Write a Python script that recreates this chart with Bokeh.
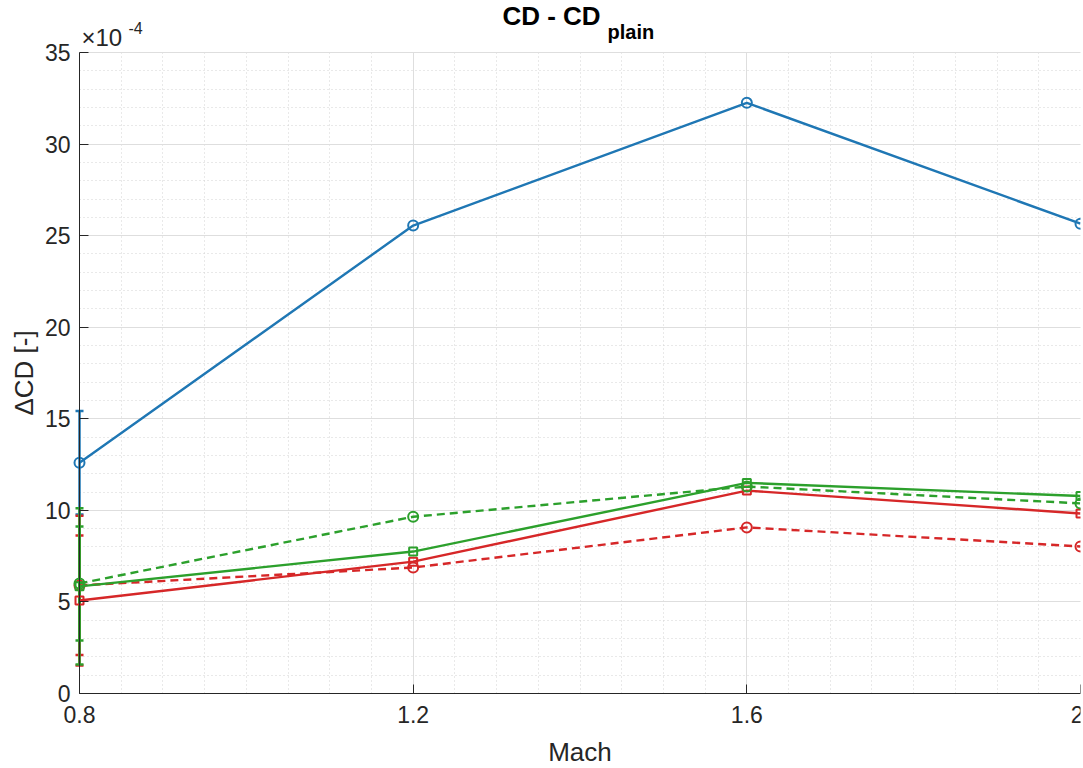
import math
from bokeh.plotting import figure
from bokeh.models import FixedTicker, Label, Whisker, TeeHead, ColumnDataSource, Range1d, Grid
from bokeh.embed import file_html
from bokeh.resources import INLINE

mach = [0.8, 1.2, 1.6, 2.0]
# values in units of 1e-4
blue = [12.6, 25.55, 32.25, 25.65]
green_solid = [5.85, 7.75, 11.5, 10.78]
green_dash = [6.01, 9.65, 11.3, 10.38]
red_solid = [5.08, 7.2, 11.08, 9.83]
red_dash = [5.9, 6.88, 9.07, 8.03]
err = {"blue": 2.82, "green_solid": 4.27, "green_dash": 3.11, "red_solid": 3.55, "red_dash": 3.8}
x_ticks = [0.8, 1.2, 1.6, 2.0]
x_tick_labels = ["0.8", "1.2", "1.6", "2"]
y_ticks = [0, 5, 10, 15, 20, 25, 30, 35]
X_MIN, X_MAX = 0.8, 2.0
Y_MIN, Y_MAX = 0, 35

C_BLUE = "#1f77b4"
C_GREEN = "#2ca02c"
C_RED = "#d62728"
FONT = "Liberation Sans"
TXT = "#262626"

# The frame covers the whole canvas so that the title, the exponent, the axis labels
# and the error-bar caps at x = 0.8 are not clipped; the axes box itself spans
# x 79..1080 px and y 52..693 px of the 1083 x 768 canvas.
W, H = 1083, 768
BOX_L, BOX_R, BOX_T, BOX_B = 79, 1080, 52, 693
px_x = (BOX_R - BOX_L) / (X_MAX - X_MIN)
px_y = (BOX_B - BOX_T) / (Y_MAX - Y_MIN)
x_start = X_MIN - BOX_L / px_x
y_top = Y_MAX + BOX_T / px_y
y_bottom = Y_MIN - (H - BOX_B) / px_y

p = figure(width=W, height=H, output_backend="svg", toolbar_location=None, title=None,
           x_range=Range1d(x_start, X_MAX), y_range=Range1d(y_bottom, y_top),
           min_border_left=0, min_border_right=W - BOX_R, min_border_top=0, min_border_bottom=0)
p.outline_line_color = None
p.background_fill_color = "white"

xt = FixedTicker(ticks=x_ticks,
                 minor_ticks=[round(X_MIN + 0.05 * i, 2) for i in range(25)])
yt = FixedTicker(ticks=y_ticks, minor_ticks=list(range(Y_MIN, Y_MAX + 1)))
p.xaxis.ticker = xt
p.yaxis.ticker = yt
p.xaxis.major_label_overrides = {t: s for t, s in zip(x_ticks, x_tick_labels)}
p.yaxis.bounds = (Y_MIN, Y_MAX)
p.xaxis.bounds = (X_MIN, X_MAX)
p.yaxis.fixed_location = X_MIN
p.xaxis.fixed_location = Y_MIN

for ax in (p.xaxis[0], p.yaxis[0]):
    ax.axis_line_color = TXT
    ax.axis_line_width = 1
    ax.major_tick_line_color = TXT
    ax.major_tick_in = 9
    ax.major_tick_out = 0
    ax.minor_tick_in = 0
    ax.minor_tick_out = 0
    ax.major_label_text_font = FONT
    ax.major_label_text_font_size = "23px"
    ax.major_label_text_color = TXT

p.xaxis.major_label_standoff = 12
p.yaxis.major_label_standoff = 9

p.grid.grid_line_color = "#dedede"
p.grid.grid_line_width = 1
p.grid.minor_grid_line_color = "#d2d2d2"
p.grid.minor_grid_line_dash = "1 3"
p.grid.minor_grid_line_width = 1
if "cross_bounds" in Grid.properties():
    p.xgrid.cross_bounds = (Y_MIN, Y_MAX)
    p.ygrid.cross_bounds = (X_MIN, X_MAX)

series = [
    ("blue", blue, C_BLUE, "solid", "circle"),
    ("red_dash", red_dash, C_RED, "dashed", "circle"),
    ("red_solid", red_solid, C_RED, "solid", "square"),
    ("green_dash", green_dash, C_GREEN, "dashed", "circle"),
    ("green_solid", green_solid, C_GREEN, "solid", "square"),
]

for name, ys, col, dash, marker in series:
    e = err[name]
    src = ColumnDataSource(dict(x=[mach[0]], lower=[ys[0] - e], upper=[ys[0] + e]))
    w = Whisker(source=src, base="x", lower="lower", upper="upper",
                line_color=col, line_width=2.5,
                upper_head=TeeHead(size=8, line_color=col, line_width=2.5),
                lower_head=TeeHead(size=8, line_color=col, line_width=2.5))
    p.add_layout(w)
    p.line(mach, ys, line_color=col, line_width=2.4,
           line_dash="8 5" if dash == "dashed" else "solid")
    if marker == "circle":
        p.scatter(mach, ys, marker="circle", size=10, line_color=col, line_width=2, fill_alpha=0)
    else:
        p.scatter(mach, ys, marker="square", size=8, line_color=col, line_width=2, fill_alpha=0)

# axis labels
p.add_layout(Label(x=X_MIN, y=(Y_MIN + Y_MAX) / 2, x_offset=-56, text="ΔCD [-]", angle=math.pi / 2,
                   text_font=FONT, text_font_size="26px", text_color=TXT,
                   text_align="center", text_baseline="middle"))
p.add_layout(Label(x=(X_MIN + X_MAX) / 2, y=Y_MIN, y_offset=-58, text="Mach",
                   text_font=FONT, text_font_size="26px", text_color=TXT,
                   text_align="center", text_baseline="alphabetic"))
# title with subscript
p.add_layout(Label(x=1.307, y=Y_MAX, y_offset=37, text="CD - CD", text_font=FONT,
                   text_font_size="26px", text_font_style="bold", text_color="black",
                   text_align="left", text_baseline="alphabetic"))
p.add_layout(Label(x=1.433, y=Y_MAX, y_offset=21, text="plain", text_font=FONT,
                   text_font_size="20px", text_font_style="bold", text_color="black",
                   text_align="left", text_baseline="alphabetic"))
# exponent
p.add_layout(Label(x=X_MIN, y=Y_MAX, x_offset=2, y_offset=15, text="×10", text_font=FONT,
                   text_font_size="24px", text_color=TXT,
                   text_align="left", text_baseline="alphabetic"))
p.add_layout(Label(x=X_MIN, y=Y_MAX, x_offset=49, y_offset=25, text="-4", text_font=FONT,
                   text_font_size="16px", text_color=TXT,
                   text_align="left", text_baseline="alphabetic"))

open("out.html", "w").write(file_html(p, INLINE))
